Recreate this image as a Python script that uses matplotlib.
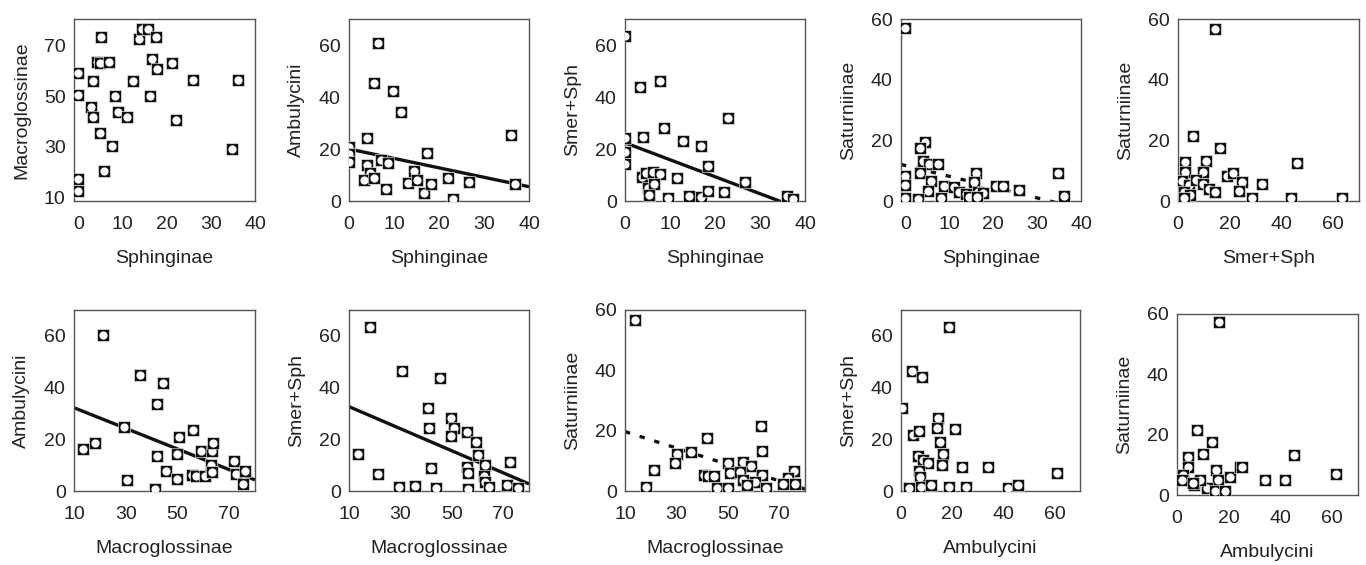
import numpy as np
import matplotlib
matplotlib.use("Agg")
import matplotlib.pyplot as plt

plt.rcParams['font.family'] = ['Liberation Sans', 'DejaVu Sans']

# --- data (one pair of lists per panel) ---
sph_mac_x = [0, 0, 0, 0, 5.2, 3.2, 4.2, 4.8, 6.9, 2.9, 3.4, 5.0, 5.9, 7.5, 8.2, 9.0, 11.0, 12.4,
             13.7, 14.4, 15.8, 17.6, 16.7, 17.7, 16.2, 21.3, 22.1, 26.0, 34.9, 36.1]
sph_mac_y = [59.3, 50.6, 17.3, 12.5, 73.3, 55.8, 63.4, 63, 63.4, 45.6, 41.7, 35.3, 20.2, 30.1, 50,
             43.6, 41.7, 55.8, 72.7, 76.5, 76.5, 73.2, 64.7, 60.8, 50, 63.2, 40.5, 56.4, 29.1, 56.4]

sph_amb_x = [6.5, 5.6, 9.7, 11.6, 4.0, 36.0, 17.3, 0, 0, 0, 4.0, 4.7, 3.4, 5.5, 7.0, 8.7, 8.2,
             14.4, 13.0, 15.0, 16.7, 18.3, 21.9, 23.1, 26.6, 36.9]
sph_amb_y = [60.6, 45.5, 42.3, 34.1, 24.1, 25.4, 18.3, 20.9, 18, 15.1, 13.8, 10.6, 8.1, 8.7, 15.8,
             14.5, 4.6, 11.7, 6.8, 8.1, 2.9, 6.5, 8.7, 0.6, 7.2, 6.4]

sph_smer_x = [0, 0, 0, 0, 3.4, 7.8, 22.8, 3.9, 8.6, 12.9, 16.8, 18.4, 3.8, 4.6, 6.2, 7.7, 5.2, 6.5,
              5.4, 11.6, 9.6, 14.2, 16.8, 18.4, 22.0, 26.7, 36.0, 37.3]
sph_smer_y = [63.6, 24.1, 19, 14.2, 43.7, 46.3, 32.1, 24.5, 28.2, 23.1, 21.3, 13.6, 9.4, 10.6, 11.3,
              10.4, 5.1, 6.5, 2.3, 9, 1, 2.1, 1.7, 4, 3.3, 7.4, 1.9, 0.8]

sph_sat_x = [0, 4.4, 3.3, 3.9, 5.3, 7.4, 3.3, 0, 0, 5.9, 5.1, 8.9, 11.1, 12.2, 13.9, 16.1, 15.7,
             16.6, 17.7, 20.7, 22.2, 25.9, 34.8, 36.1, 0, 2.9, 8, 14.4, 16.3]
sph_sat_y = [56.9, 19.5, 17.5, 13.1, 12.3, 12.1, 9.3, 8.3, 5.2, 6.5, 3.2, 4.8, 4.6, 3, 2.4, 9.3, 6.1,
             3, 2.8, 4.8, 4.9, 3.7, 9.1, 1.7, 1, 0.8, 1, 1.3, 1.3]

smer_sat_x = [14.5, 5.8, 16.2, 46.2, 2.6, 10.8, 2.6, 9.6, 18.9, 21.4, 32.3, 24.6, 23.7, 1.5, 4.1,
              6.9, 9.5, 11.8, 14.4, 2.2, 4.7, 2.2, 28.8, 43.6, 63.4]
smer_sat_y = [56.7, 21.5, 17.6, 12.4, 12.9, 13.2, 9.6, 9.6, 8.4, 9.1, 5.5, 6.4, 3.4, 6.6, 5.3, 6.9,
              5.5, 3.8, 3.1, 3.1, 2, 0.9, 0.9, 0.9, 0.9]

mac_amb_x = [21.1, 35.6, 44.3, 42.1, 13.5, 18.0, 29.5, 30.5, 41.2, 42.1, 45.6, 49.9, 50.6, 49.9,
             55.9, 55.6, 57, 59.0, 60.7, 63.3, 63.9, 63.0, 63.5, 72, 72.6, 76, 75.3]
mac_amb_y = [60.5, 45, 41.6, 33.6, 16.1, 18.4, 24.9, 4.3, 0.8, 13.5, 7.9, 14.3, 20.7, 4.6, 23.6,
             6.2, 5.9, 15.6, 5.9, 15.6, 18.4, 10.0, 7.5, 11.7, 6.6, 7.9, 2.7]

mac_smer_x = [18.3, 30.6, 45.4, 40.7, 41, 13.6, 21.2, 29.6, 35.6, 42, 44, 49.7, 51, 49.7, 55.7,
              59.3, 60.3, 55.9, 56.3, 56.3, 62.7, 62.6, 63, 64.3, 72.7, 71.6, 75.7]
mac_smer_y = [63.5, 46.4, 43.8, 32, 24.2, 14.2, 6.6, 1.7, 2.1, 8.8, 1, 28.1, 24.2, 21.3, 22.9,
              18.8, 13.9, 9.1, 6.8, 0.8, 10.1, 5.9, 3.6, 1.7, 11.3, 2.3, 1]

mac_sat_x = [13.7, 42, 62.7, 63.3, 21.3, 18.3, 30.4, 35.6, 29.6, 40.7, 42.3, 44.7, 50, 55.7, 58.9,
             50.7, 54.7, 63.3, 56, 60.7, 57.3, 45.6, 50, 64.7, 75.6, 73.3, 71.3, 76]
mac_sat_y = [56.7, 17.7, 21.7, 13.4, 7, 1.2, 12.3, 13, 9.2, 5.3, 5.1, 5.1, 9.2, 9.6, 8.3, 5.9, 6.4,
             5.3, 3.6, 3.1, 2, 0.9, 1.1, 1.1, 6.7, 4.2, 2.3, 2.3]

amb_smer_x = [18.6, 4.3, 8.2, 0.5, 14.5, 14.1, 21, 4.6, 7.2, 15.4, 16.3, 16, 6.5, 8.5, 10.5, 7.2,
              7.6, 23.8, 34.2, 60.9, 3.3, 7.8, 11.7, 18.6, 25.5, 42, 45.6]
amb_smer_y = [63.5, 46.3, 43.9, 32.2, 28.2, 24.5, 24.1, 21.5, 23.2, 18.9, 14.4, 10.2, 13.5, 11.8,
              10.9, 7.9, 5.3, 9.2, 9.2, 6.9, 1, 1.7, 2.3, 1.4, 1.7, 1.2, 2.3]

amb_sat_x = [16.2, 7.6, 13.7, 10.2, 4.4, 4.4, 2.4, 15.1, 20.5, 24.4, 25, 16, 6.6, 11.5, 8.9, 34,
             41.8, 14.7, 18.6, 2.0, 6.2, 45.4, 61.3]
amb_sat_y = [57.3, 21.5, 17.5, 13.5, 12.5, 9.4, 6.6, 8.3, 5.9, 9.4, 9.2, 5, 3.3, 2.2, 5, 5, 5, 1.4,
             1.4, 5, 4, 13.1, 7]

# regression lines: (intercept, slope)
fit_sph_amb = (20.0, -0.3625)
fit_sph_smer = (22.4, -0.653)
fit_sph_sat = (11.7, -0.356)
fit_mac_amb = (36.2, -0.399)
fit_mac_smer = (36.9, -0.427)
fit_mac_sat = (22.4, -0.272)

ticks_0_40 = [0, 10, 20, 30, 40]
ticks_0_60 = [0, 20, 40, 60]
ticks_10_70 = [10, 30, 50, 70]

# panel: x, y, xlabel, ylabel, xlim, ylim, xticks, yticks, fit, dashed, box (px: left, top, right, bottom)
panels = [
    (sph_mac_x, sph_mac_y, 'Sphinginae', 'Macroglossinae', (-1, 40), (8.5, 80.5), ticks_0_40,
     [10, 30, 50, 70], None, False, (74, 19, 255, 201)),
    (sph_amb_x, sph_amb_y, 'Sphinginae', 'Ambulycini', (0, 40), (0, 70), ticks_0_40, ticks_0_60,
     fit_sph_amb, False, (349, 19, 529, 201)),
    (sph_smer_x, sph_smer_y, 'Sphinginae', 'Smer+Sph', (0, 40), (0, 70), ticks_0_40, ticks_0_60,
     fit_sph_smer, False, (625, 19, 805, 201)),
    (sph_sat_x, sph_sat_y, 'Sphinginae', 'Saturniinae', (-1, 40), (0, 60), ticks_0_40, ticks_0_60,
     fit_sph_sat, True, (901, 19, 1081, 201)),
    (smer_sat_x, smer_sat_y, 'Smer+Sph', 'Saturniinae', (0, 70), (0, 60), ticks_0_60, ticks_0_60,
     None, False, (1178, 19, 1359, 201)),
    (mac_amb_x, mac_amb_y, 'Macroglossinae', 'Ambulycini', (10, 80), (0, 70), ticks_10_70,
     ticks_0_60, fit_mac_amb, False, (74, 310, 255, 491)),
    (mac_smer_x, mac_smer_y, 'Macroglossinae', 'Smer+Sph', (10, 80), (0, 70), ticks_10_70,
     ticks_0_60, fit_mac_smer, False, (349, 310, 529, 491)),
    (mac_sat_x, mac_sat_y, 'Macroglossinae', 'Saturniinae', (10, 80), (0, 60), ticks_10_70,
     ticks_0_60, fit_mac_sat, True, (625, 310, 805, 491)),
    (amb_smer_x, amb_smer_y, 'Ambulycini', 'Smer+Sph', (0, 70), (0, 70), ticks_0_60, ticks_0_60,
     None, False, (901, 310, 1080, 491)),
    (amb_sat_x, amb_sat_y, 'Ambulycini', 'Saturniinae', (0, 70), (0, 60), ticks_0_60, ticks_0_60,
     None, False, (1177, 314, 1358, 495)),
]

W, H = 1366, 565
fig = plt.figure(figsize=(W / 100, H / 100), dpi=100)
txt = '#222222'

for (xs, ys, xlab, ylab, xlim, ylim, xt, yt, fit, dashed, box) in panels:
    l, t, r, b = box
    ax = fig.add_axes([l / W, 1 - b / H, (r - l) / W, (b - t) / H])

    if fit is not None:
        xx = np.array(xlim, dtype=float)
        yy = fit[0] + fit[1] * xx
        if dashed:
            ax.plot(xx, yy, color='#111111', lw=2.4, dashes=(1.6, 3.0), zorder=2)
        else:
            ax.plot(xx, yy, color='#111111', lw=2.4, solid_capstyle='butt', zorder=2)

    # each marker: black square with a white dot on top, drawn one by one
    for i, (px, py) in enumerate(zip(xs, ys)):
        z = 3 + i * 0.01
        ax.plot(px, py, 's', ms=8.4, color='#111111', mec='white', mew=0.4, zorder=z)
        ax.plot(px, py, 'o', ms=5.9, color='white', mew=0, zorder=z + 0.005)

    ax.set_xlim(*xlim)
    ax.set_ylim(*ylim)
    ax.set_xticks(xt)
    ax.set_yticks(yt)
    ax.tick_params(length=0, labelsize=14, colors=txt, labelcolor=txt)
    ax.tick_params(axis='x', pad=11)
    ax.tick_params(axis='y', pad=6)
    ax.set_xlabel(xlab, fontsize=14, color=txt, labelpad=12)
    ax.set_ylabel(ylab, fontsize=14, color=txt, labelpad=10)
    for s in ax.spines.values():
        s.set_color('#555555')
        s.set_linewidth(1.0)

fig.savefig('out.png', dpi=100)
